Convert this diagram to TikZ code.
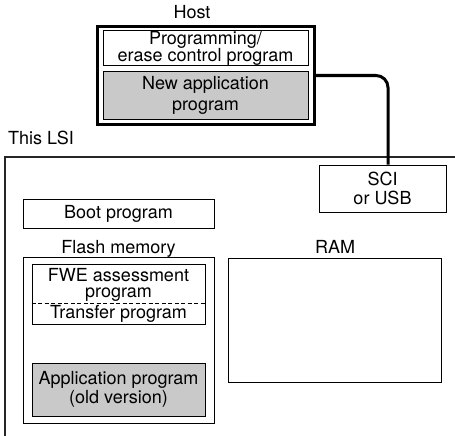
\documentclass[tikz,border=0pt]{standalone}
\usepackage{fontspec}
\setmainfont{TeX Gyre Heros}
\usetikzlibrary{positioning,calc}
\definecolor{oldgrey}{HTML}{C9C9C9}
\newcommand\lsitext{\fontsize{18}{19}\selectfont}
\tikzset{
  prog/.style={draw=black,line width=1pt,inner sep=0pt,align=center,font=\lsitext},
  hostbox/.style={draw=black,line width=3pt,inner sep=0pt},
  lbl/.style={inner sep=0pt,align=center,font=\lsitext},
  cable/.style={draw=black,line width=3pt,rounded corners=12pt},
  lsiline/.style={draw=black!85,line width=2.2pt},
  split/.style={draw=black,line width=0.9pt,dash pattern=on 4pt off 2.5pt}
}
\begin{document}
\begin{tikzpicture}[x=1pt,y=-1pt]
  \useasboundingbox (0,0) rectangle (455,436);
  % host side
  \node[hostbox,minimum width=217pt,minimum height=98pt] (host) at (206,75.5) {};
  \node[prog,minimum width=205pt,minimum height=35pt] (ctrl) at (205.5,48.5)
    {Programming/\\[-2pt]erase control program};
  \node[prog,fill=oldgrey,minimum width=205pt,minimum height=47pt] (newapp) at (205.5,95.5)
    {New application\\[2pt]program};
  \node[lbl,anchor=base] (hostlbl) at (192,19) {Host};
  % this LSI
  \draw[lsiline] (5,436) -- (5,157) -- (455,157);
  \node[lbl,anchor=base west] (lsilbl) at (8,144) {This LSI};
  \node[prog,fill=white,minimum width=127pt,minimum height=47pt] (sci) at (382.5,188.5)
    {SCI\\or USB};
  \draw[cable] (host.east) -| ([xshift=5.5pt]sci.north);
  \node[prog,minimum width=191pt,minimum height=29pt] (boot) at (118.5,213.5) {Boot program};
  \node[prog,minimum width=191pt,minimum height=166pt] (flash) at (118.5,340) {};
  \node[lbl,anchor=base] (flashlbl) at (118.5,253) {Flash memory};
  \node[prog,minimum width=173pt,minimum height=60pt] (fwe) at (118.5,294) {};
  \node[lbl] (fwetext) at (118.5,285) {FWE assessment\\[-2.5pt]program};
  \draw[split] ([yshift=-9pt]fwe.west) -- ([yshift=-9pt]fwe.east);
  \node[lbl,anchor=base] (transfer) at (118.5,318) {Transfer program};
  \node[prog,fill=oldgrey,minimum width=173pt,minimum height=53pt] (app) at (118.5,389.5)
    {Application program\\(old version)};
  \node[prog,minimum width=213pt,minimum height=124pt] (ram) at (334.5,320) {};
  \node[lbl,anchor=base] (ramlbl) at (335,253) {RAM};
\end{tikzpicture}
\end{document}
